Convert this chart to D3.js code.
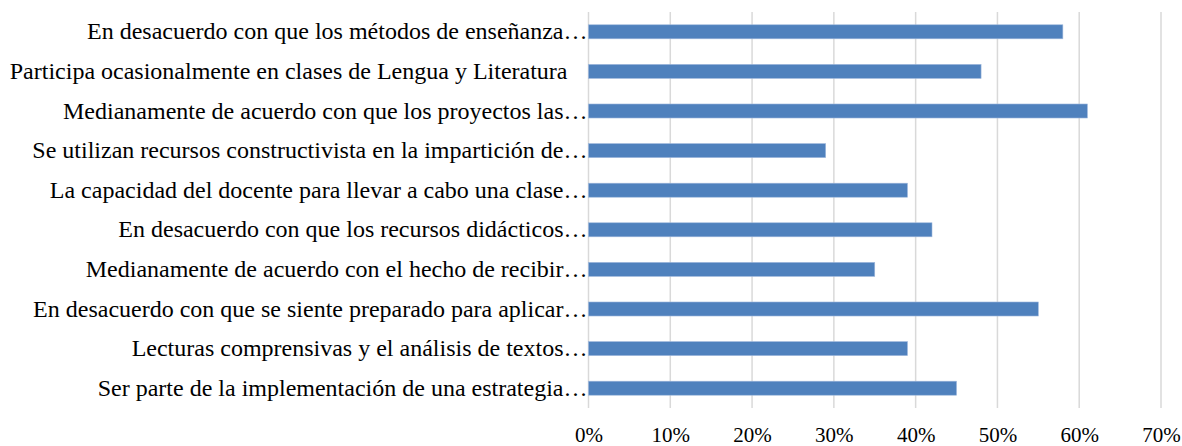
<!DOCTYPE html>
<html>
<head>
<meta charset="utf-8">
<script src="https://cdn.jsdelivr.net/npm/d3@7"></script>
<style>
  body { margin: 0; background: #fff; }
</style>
</head>
<body>
<div id="chart"></div>
<script>
// categories, top to bottom as drawn
const categories = [
    "En desacuerdo con que los métodos de enseñanza…",
    "Participa ocasionalmente en clases de Lengua y Literatura ",
    "Medianamente de acuerdo con que los proyectos las…",
    "Se utilizan recursos constructivista en la impartición de…",
    "La capacidad del docente para llevar a cabo una clase…",
    "En desacuerdo con que los recursos didácticos…",
    "Medianamente de acuerdo con el hecho de recibir…",
    "En desacuerdo con que se siente preparado para aplicar…",
    "Lecturas comprensivas y el análisis de textos…",
    "Ser parte de la implementación de una estrategia…"
];
const values = [0.58, 0.48, 0.61, 0.29, 0.39, 0.42, 0.35, 0.55, 0.39, 0.45];
const xTicks = [0, 0.1, 0.2, 0.3, 0.4, 0.5, 0.6, 0.7];

const width = 1182, height = 446;
const margin = { top: 12, right: 21, bottom: 38, left: 588.5 };
const serif = "Liberation Serif, DejaVu Serif, serif";

const svg = d3.select("#chart").append("svg")
    .attr("width", width)
    .attr("height", height);

const x = d3.scaleLinear()
    .domain([0, 0.7])
    .range([margin.left, width - margin.right]);

const y = d3.scaleBand()
    .domain(categories)
    .range([margin.top, height - margin.bottom])
    .paddingInner(0.646)
    .paddingOuter(0.323);

// gridlines
svg.append("g")
    .selectAll("line")
    .data(xTicks)
    .join("line")
    .attr("x1", d => x(d))
    .attr("x2", d => x(d))
    .attr("y1", margin.top)
    .attr("y2", height - margin.bottom)
    .attr("stroke", "#d9d9d9")
    .attr("stroke-width", 1.5);

// bars
svg.append("g")
    .selectAll("rect")
    .data(values)
    .join("rect")
    .attr("x", x(0))
    .attr("y", (d, i) => y(categories[i]))
    .attr("width", d => x(d) - x(0))
    .attr("height", y.bandwidth())
    .attr("fill", "#4f81bd")
    .attr("stroke", "#9fb8dc")
    .attr("stroke-width", 0.6);

// category labels (the un-truncated one keeps its trailing gap)
const yAxis = svg.append("g")
    .attr("transform", `translate(${margin.left - 1},0)`)
    .call(d3.axisLeft(y).tickSize(0).tickPadding(0));
yAxis.attr("font-family", serif).attr("font-size", 24);
yAxis.select(".domain").remove();
yAxis.selectAll("text")
    .attr("font-family", serif)
    .attr("fill", "#000")
    .attr("dy", "0.32em")
    .attr("dx", d => d.endsWith(" ") ? -20 : 0);

// x tick labels
const xAxis = svg.append("g")
    .attr("transform", `translate(0,${height - margin.bottom})`)
    .call(d3.axisBottom(x).tickValues(xTicks).tickFormat(d3.format(".0%")).tickSize(0).tickPadding(0));
xAxis.attr("font-family", serif).attr("font-size", 21);
xAxis.select(".domain").remove();
xAxis.selectAll("text")
    .attr("font-family", serif)
    .attr("fill", "#000")
    .attr("y", 34)
    .attr("dy", 0);
</script>
</body>
</html>
